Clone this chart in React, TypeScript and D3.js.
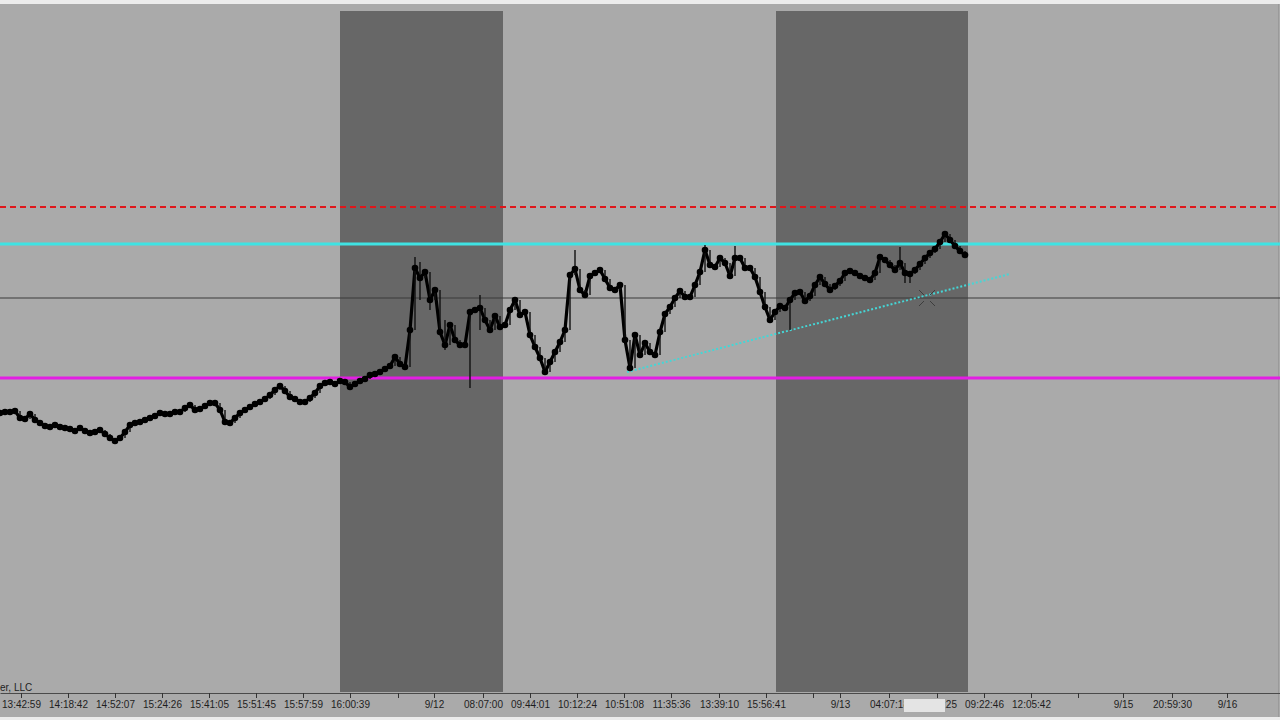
import React, { useEffect, useRef } from "react";
import * as d3 from "d3";

// ---------- data ----------
// closes, one bar every index step (price in pips)
const closes: number[] = [
  965, 966, 966, 967, 960, 959, 964, 958, 955, 952,
  951, 953, 951, 950, 949, 947, 950, 947, 945, 946,
  948, 944, 940, 937, 940, 946, 953, 955, 956, 958,
  960, 962, 965, 964, 964, 966, 966, 970, 973, 968,
  969, 972, 975, 975, 968, 956, 955, 960, 965, 968,
  971, 974, 976, 979, 983, 988, 992, 987, 981, 979,
  976, 976, 980, 985, 992, 995, 996, 994, 997, 996,
  991, 994, 997, 999, 1003, 1004, 1006, 1009, 1012, 1021,
  1014, 1011, 1048, 1110, 1100, 1106, 1078, 1088, 1046, 1033,
  1053, 1038, 1033, 1033, 1066, 1068, 1070, 1058, 1048, 1062,
  1051, 1053, 1068, 1078, 1063, 1066, 1043, 1031, 1020, 1006,
  1016, 1026, 1036, 1048, 1103, 1109, 1088, 1083, 1102, 1105,
  1108, 1099, 1090, 1088, 1093, 1038, 1010, 1043, 1023, 1035,
  1026, 1023, 1046, 1064, 1071, 1080, 1087, 1081, 1081, 1093,
  1106, 1128, 1113, 1111, 1120, 1115, 1102, 1120, 1120, 1110,
  1110, 1101, 1086, 1071, 1058, 1066, 1072, 1070, 1078, 1085,
  1086, 1077, 1082, 1093, 1101, 1094, 1088, 1092, 1097, 1105,
  1107, 1105, 1102, 1100, 1098, 1105, 1121, 1118, 1113, 1108,
  1115, 1105, 1104, 1108, 1114, 1120, 1125, 1129, 1136, 1144,
  1138, 1132, 1127, 1123,
];

// extra bar extremes: [barIndex, high, low]
const extremes: [number, number, number][] = [
  [83, 1121, 1100],
  [84, 1116, 1078],
  [86, 1103, 1068],
  [89, 1058, 1028],
  [94, 1066, 990],
  [96, 1083, 1048],
  [115, 1128, 1103],
  [141, 1133, 1110],
  [147, 1132, 1110],
  [158, 1078, 1048],
  [180, 1131, 1108],
  [181, 1105, 1095],
  [182, 1104, 1095],
];

// session shading (bar index ranges)
const sessions: [number, number][] = [
  [68, 100.6],
  [155.2, 193.6],
];

// horizontal price levels
const levelRed = 1171;
const levelCyan = 1134;
const levelGray = 1080;
const levelMagenta = 1000;

// trend line: [barIndex, price]
const trendStart: [number, number] = [125.4, 1006];
const trendEnd: [number, number] = [202, 1104];

// crosshair marker
const crosshair: [number, number] = [185.4, 1080];

// axis ticks
const tickPositions: number[] = [
  4.2, 13.6, 23, 32.4, 41.8, 51.2, 60.6, 70, 79.6, 86.8,
  96.6, 106, 115.4, 124.8, 134.2, 143.8, 153.2, 162.6, 168, 177.8,
  187.4, 196.8, 206.2, 215.6, 224.6, 234.4, 245.4,
];
const tickLabels: string[] = [
  "13:42:59", "14:18:42", "14:52:07", "15:24:26", "15:41:05", "15:51:45", "15:57:59", "16:00:39", "", "9/12",
  "08:07:00", "09:44:01", "10:12:24", "10:51:08", "11:35:36", "13:39:10", "15:56:41", "", "9/13", "04:07:18",
  "06:52:25", "09:22:46", "12:05:42", "", "9/15", "20:59:30", "9/16",
];

const copyrightText = "er, LLC";

// ---------- layout ----------
const W = 1280;
const H = 720;
const plotTop = 4;
const plotBottom = 692;
const sessionTop = 11;
const axisY = 693;

const FONT = "'Liberation Sans', Arial, sans-serif";

export default function App() {
  const axisRef = useRef<SVGGElement>(null);

  const x = d3.scaleLinear().domain([0, 256]).range([0, W]);
  const y = d3.scaleLinear().domain([686, 1374]).range([plotBottom, plotTop]);

  const extMap = new Map<number, [number, number]>();
  extremes.forEach(([i, h, l]) => extMap.set(i, [h, l]));

  const bars = closes.map((c, i) => {
    const prev = i > 0 ? closes[i - 1] : c;
    let hi = Math.max(prev, c);
    let lo = Math.min(prev, c);
    const e = extMap.get(i);
    if (e) {
      hi = Math.max(hi, e[0]);
      lo = Math.min(lo, e[1]);
    }
    return { i, c, hi, lo };
  });

  const line = d3
    .line<number>()
    .x((_, i) => x(i))
    .y((d) => y(d));

  useEffect(() => {
    if (!axisRef.current) return;
    const g = d3.select(axisRef.current);
    g.selectAll("*").remove();
    const axis = d3
      .axisBottom(x)
      .tickValues(tickPositions)
      .tickFormat((_, i) => tickLabels[i])
      .tickSize(5)
      .tickSizeOuter(0)
      .tickPadding(3);
    g.call(axis as any);
    g.select(".domain").attr("stroke", "#4a4a4a").attr("stroke-width", 1.2);
    g.selectAll(".tick line").attr("stroke", "#333");
    g.selectAll(".tick text")
      .attr("fill", "#1e1e1e")
      .style("font-family", FONT)
      .style("font-size", "10px");
  }, []);

  const [cx, cy] = [x(crosshair[0]), y(crosshair[1])];
  const crossSegs = [
    [-1, -1],
    [1, -1],
    [-1, 1],
    [1, 1],
  ];

  return (
    <svg
      width={W}
      height={H}
      style={{ position: "absolute", left: 0, top: 0, display: "block" }}
    >
      <rect x={0} y={0} width={W} height={H} fill="#ececec" />
      <rect x={0} y={plotTop} width={W} height={717 - plotTop} fill="#aaaaaa" />
      {sessions.map(([a, b], k) => (
        <rect
          key={k}
          x={x(a)}
          y={sessionTop}
          width={x(b) - x(a)}
          height={plotBottom - sessionTop}
          fill="#676767"
        />
      ))}
      <line x1={W - 1.5} x2={W - 1.5} y1={plotTop} y2={717} stroke="#9a9a9a" />

      {/* levels */}
      <line x1={0} x2={W} y1={y(levelGray)} y2={y(levelGray)} stroke="#3a3a3a" strokeWidth={1} />
      <line
        x1={0}
        x2={W}
        y1={y(levelRed)}
        y2={y(levelRed)}
        stroke="#e0161b"
        strokeWidth={2}
        strokeDasharray="6,4"
      />
      <line x1={0} x2={W} y1={y(levelCyan)} y2={y(levelCyan)} stroke="#3fe3e3" strokeWidth={3} />
      <line x1={0} x2={W} y1={y(levelMagenta)} y2={y(levelMagenta)} stroke="#e31ee3" strokeWidth={3} />

      {/* trend line */}
      <line
        x1={x(trendStart[0])}
        y1={y(trendStart[1])}
        x2={x(trendEnd[0])}
        y2={y(trendEnd[1])}
        stroke="#45d6d6"
        strokeWidth={2}
        strokeDasharray="2,2"
      />

      {/* crosshair */}
      {crossSegs.map(([sx, sy], k) => (
        <line
          key={k}
          x1={cx + sx * 3}
          y1={cy + sy * 3}
          x2={cx + sx * 8}
          y2={cy + sy * 8}
          stroke="#3d3d3d"
          strokeWidth={1}
        />
      ))}

      {/* price series */}
      <path d={line(closes) || ""} fill="none" stroke="#000" strokeWidth={3.2} strokeLinejoin="round" />
      {bars.map((b) => (
        <line
          key={"w" + b.i}
          x1={x(b.i)}
          x2={x(b.i)}
          y1={y(b.hi)}
          y2={y(b.lo)}
          stroke="#111"
          strokeWidth={1.4}
        />
      ))}
      {bars.map((b) => (
        <circle key={"c" + b.i} cx={x(b.i)} cy={y(b.c)} r={3.3} fill="#000" />
      ))}

      {/* axis */}
      <g ref={axisRef} transform={`translate(0,${axisY})`} />

      <text x={0} y={691} fontFamily={FONT} fontSize={10} fill="#1e1e1e">
        {copyrightText}
      </text>

      {/* covering box on axis */}
      <rect x={904} y={699} width={41} height={13} fill="#e4e4e4" />
    </svg>
  );
}
